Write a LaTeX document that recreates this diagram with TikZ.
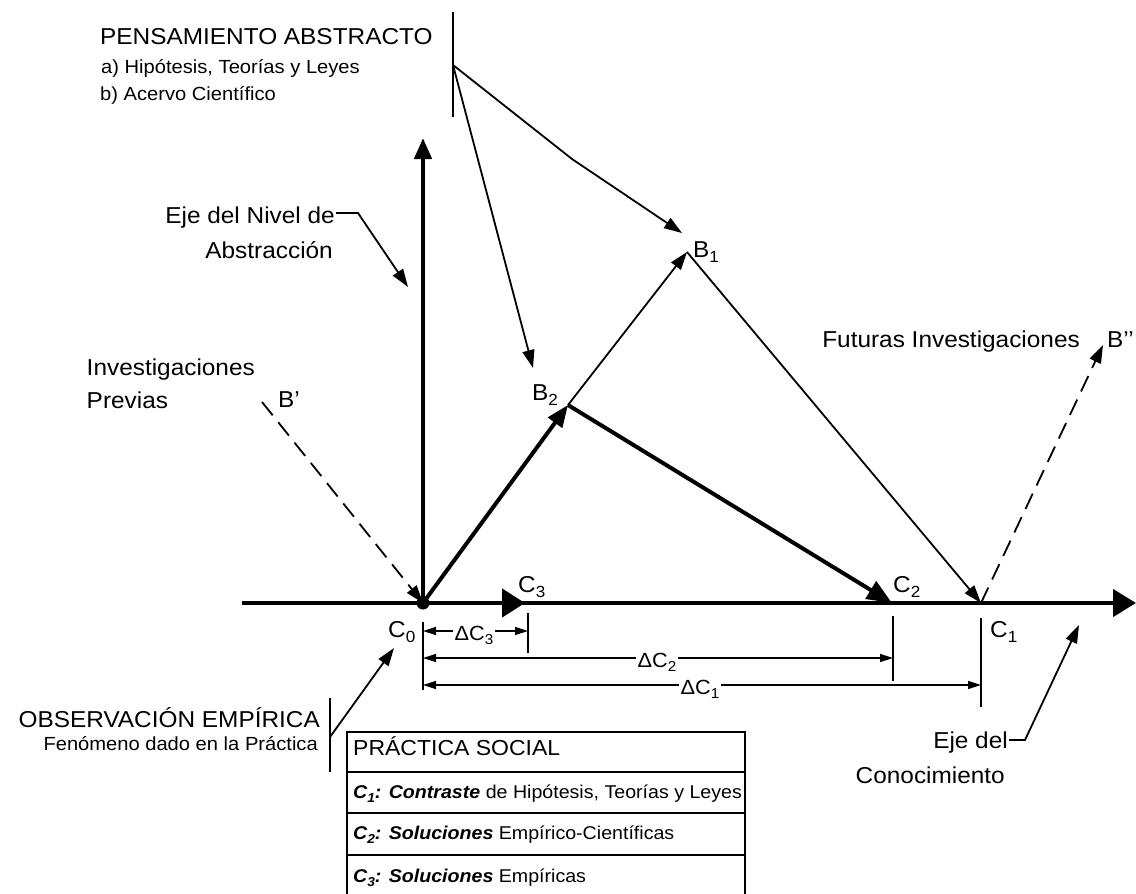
\documentclass[tikz,border=0pt]{standalone}
\usepackage{fontspec}
\setmainfont{Liberation Sans}[FakeStretch=1.06]
\usetikzlibrary{arrows.meta,calc}
% small lowered index for C0, B1, ...
\newcommand\lsub[1]{\raisebox{-0.22em}{\scalebox{0.7}{#1}}}

\begin{document}
\begin{tikzpicture}[x=1pt,y=-1pt,
  lbl/.style={inner sep=0pt, font=\fontsize{23}{27}\selectfont},
  sml/.style={inner sep=0pt, font=\fontsize{19}{23}\selectfont},
  dimlbl/.style={inner sep=1.5pt, fill=white, anchor=base, font=\fontsize{20.5}{24}\selectfont},
  rowtxt/.style={inner sep=0pt, anchor=base west, font=\fontsize{18.5}{22}\selectfont},
  axis/.style={line width=4.5pt},
  heavy/.style={line width=4pt},
  conn/.style={line width=1.8pt},
  dashline/.style={line width=1.8pt, dash pattern=on 17pt off 9pt},
  dimline/.style={line width=1.2pt},
  tbl/.style={line width=2pt},
  tipS/.style={-{Triangle[length=18pt,width=12pt]}},
  tipD/.style={{Triangle[length=13pt,width=8pt]}-{Triangle[length=13pt,width=8pt]}},
]
\useasboundingbox (0,0) rectangle (1136,894);

% ---- key points of the knowledge scheme
\coordinate (c0) at (423,603);
\coordinate (c3) at (525,603);
\coordinate (c2) at (892,603);
\coordinate (c1) at (981,603);
\coordinate (b2) at (568,405);
\coordinate (b1) at (687,252);
\coordinate (axL) at (242,603);
\coordinate (axR) at (1136,603);
\coordinate (ayT) at (423,138);
\coordinate (bp) at (262,402);
\coordinate (bpp) at (1103,345);

% ---- axes
\draw[axis, -{Triangle[length=23pt,width=27pt]}] (axL) -- (axR);
\draw[axis, -{Triangle[length=21pt,width=17pt]}] (c0) -- (ayT);
\draw[axis, -{Triangle[length=23pt,width=28pt]}] (c0) -- (c3);

% ---- paths through B2 and B1
\draw[heavy, -{Triangle[length=22pt,width=17pt]}] (c0) -- (b2);
\draw[heavy, -{Triangle[length=25pt,width=20pt]}] (b2) -- (c2);
\draw[conn, tipS] (b2) -- (b1);
\draw[conn, tipS] (b1) -- (c1);
\fill (c0) circle (6.5pt);

% ---- previous and future research
\draw[dashline, tipS] (bp) -- (c0);
\draw[dashline, tipS] (c1) -- (bpp);

% ---- point labels
\node[lbl, anchor=base west] (lc0) at (388,637) {C\lsub{0}};
\node[lbl, anchor=base west] (lc3) at (518,592) {C\lsub{3}};
\node[lbl, anchor=base west] (lc2) at (893,592) {C\lsub{2}};
\node[lbl, anchor=base west] (lc1) at (990,637) {C\lsub{1}};
\node[lbl, anchor=base west] (lb2) at (532,400) {B\lsub{2}};
\node[lbl, anchor=base west] (lb1) at (693,257) {B\lsub{1}};
\node[lbl, anchor=base west] (lbp) at (278,407) {B’};
\node[lbl, anchor=base west] (lbpp) at (1107,347) {B’’};

% ---- abstract thought
\node[lbl, anchor=base west] (pa1) at (100,45) {PENSAMIENTO ABSTRACTO};
\node[sml, anchor=base west] (pa2) at (101,73) {a) Hipótesis, Teorías y Leyes};
\node[sml, anchor=base west] (pa3) at (100,100) {b) Acervo Científico};
\coordinate (paT) at (453,12);
\coordinate (paB) at (453,117);
\coordinate (paJ) at (453,65);
\coordinate (paK) at (572,159);
\coordinate (paB1) at (682,233);
\coordinate (paB2) at (533,368);
\draw[conn] (paT) -- (paB);
\draw[conn, tipS] (paJ) -- (paB2);
\draw[conn, tipS] (paJ) -- (paK) -- (paB1);

% ---- abstraction axis
\node[lbl, anchor=base east] (en1) at (335,223) {Eje del Nivel de};
\node[lbl, anchor=base east] (en2) at (333,258) {Abstracción};
\coordinate (enT) at (408,287);
\draw[conn, tipS] ($(en1.base east)+(1,-10)$) -- ++(22,0) -- (enT);

% ---- research labels
\node[lbl, anchor=base east] (ip1) at (255,375) {Investigaciones};
\node[lbl, anchor=base west] (ip2) at ($(ip1.base west)+(0,33)$) {Previas};
\node[lbl, anchor=base east] (fi) at (1080,347) {Futuras Investigaciones};

% ---- knowledge axis
\node[lbl, anchor=base east] (ec1) at (1008,748) {Eje del};
\node[lbl, anchor=base east] (ec2) at (1005,783) {Conocimiento};
\coordinate (ecT) at (1079,625);
\draw[conn, tipS] ($(ec1.base east)+(1,-8)$) -- ++(16,0) -- (ecT);

% ---- empirical observation
\node[lbl, anchor=base east] (ob1) at (320,727) {OBSERVACIÓN EMPÍRICA};
\node[sml, anchor=base east] (ob2) at (318,750) {Fenómeno dado en la Práctica};
\coordinate (obT) at (330,698);
\coordinate (obB) at (330,772);
\coordinate (obJ) at (330,737);
\coordinate (obA) at (394,648);
\draw[conn] (obT) -- (obB);
\draw[conn, tipS] (obJ) -- (obA);

% ---- distances along the knowledge axis
\coordinate (x0t) at (423,622);  \coordinate (x0b) at (423,690);
\coordinate (x3t) at (528,613);  \coordinate (x3b) at (528,653);
\coordinate (x2t) at (893,616);  \coordinate (x2b) at (893,681);
\coordinate (x1t) at (981,618);  \coordinate (x1b) at (981,707);
\draw[dimline] (x0t) -- (x0b);
\draw[dimline] (x3t) -- (x3b);
\draw[dimline] (x2t) -- (x2b);
\draw[dimline] (x1t) -- (x1b);
\draw[dimline, tipD] (x0t |- 0,631) -- (x3t |- 0,631);
\draw[dimline, tipD] (x0t |- 0,658) -- (x2t |- 0,658);
\draw[dimline, tipD] (x0t |- 0,685) -- (x1t |- 0,685);
\node[dimlbl] (dc3) at (474,640) {ΔC\lsub{3}};
\node[dimlbl] (dc2) at (657,667) {ΔC\lsub{2}};
\node[dimlbl] (dc1) at (700,694) {ΔC\lsub{1}};

% ---- social practice table
\coordinate (tTL) at (347,732);
\coordinate (tBR) at (745,897);
\draw[tbl] (tTL) rectangle (tBR);
\draw[tbl] (347,772) -- (745,772);
\draw[tbl] (347,813) -- (745,813);
\draw[tbl] (347,855) -- (745,855);
\node[rowtxt, font=\fontsize{21.7}{26}\selectfont] (t0) at (353,755) {PRÁCTICA SOCIAL};
\node[rowtxt] (t1) at (353,798) {\textbf{\textit{C\lsub{1}: Contraste}} de Hipótesis, Teorías y Leyes};
\node[rowtxt] (t2) at (353,839) {\textbf{\textit{C\lsub{2}: Soluciones}} Empírico-Científicas};
\node[rowtxt] (t3) at (353,882) {\textbf{\textit{C\lsub{3}: Soluciones}} Empíricas};
\end{tikzpicture}
\end{document}
